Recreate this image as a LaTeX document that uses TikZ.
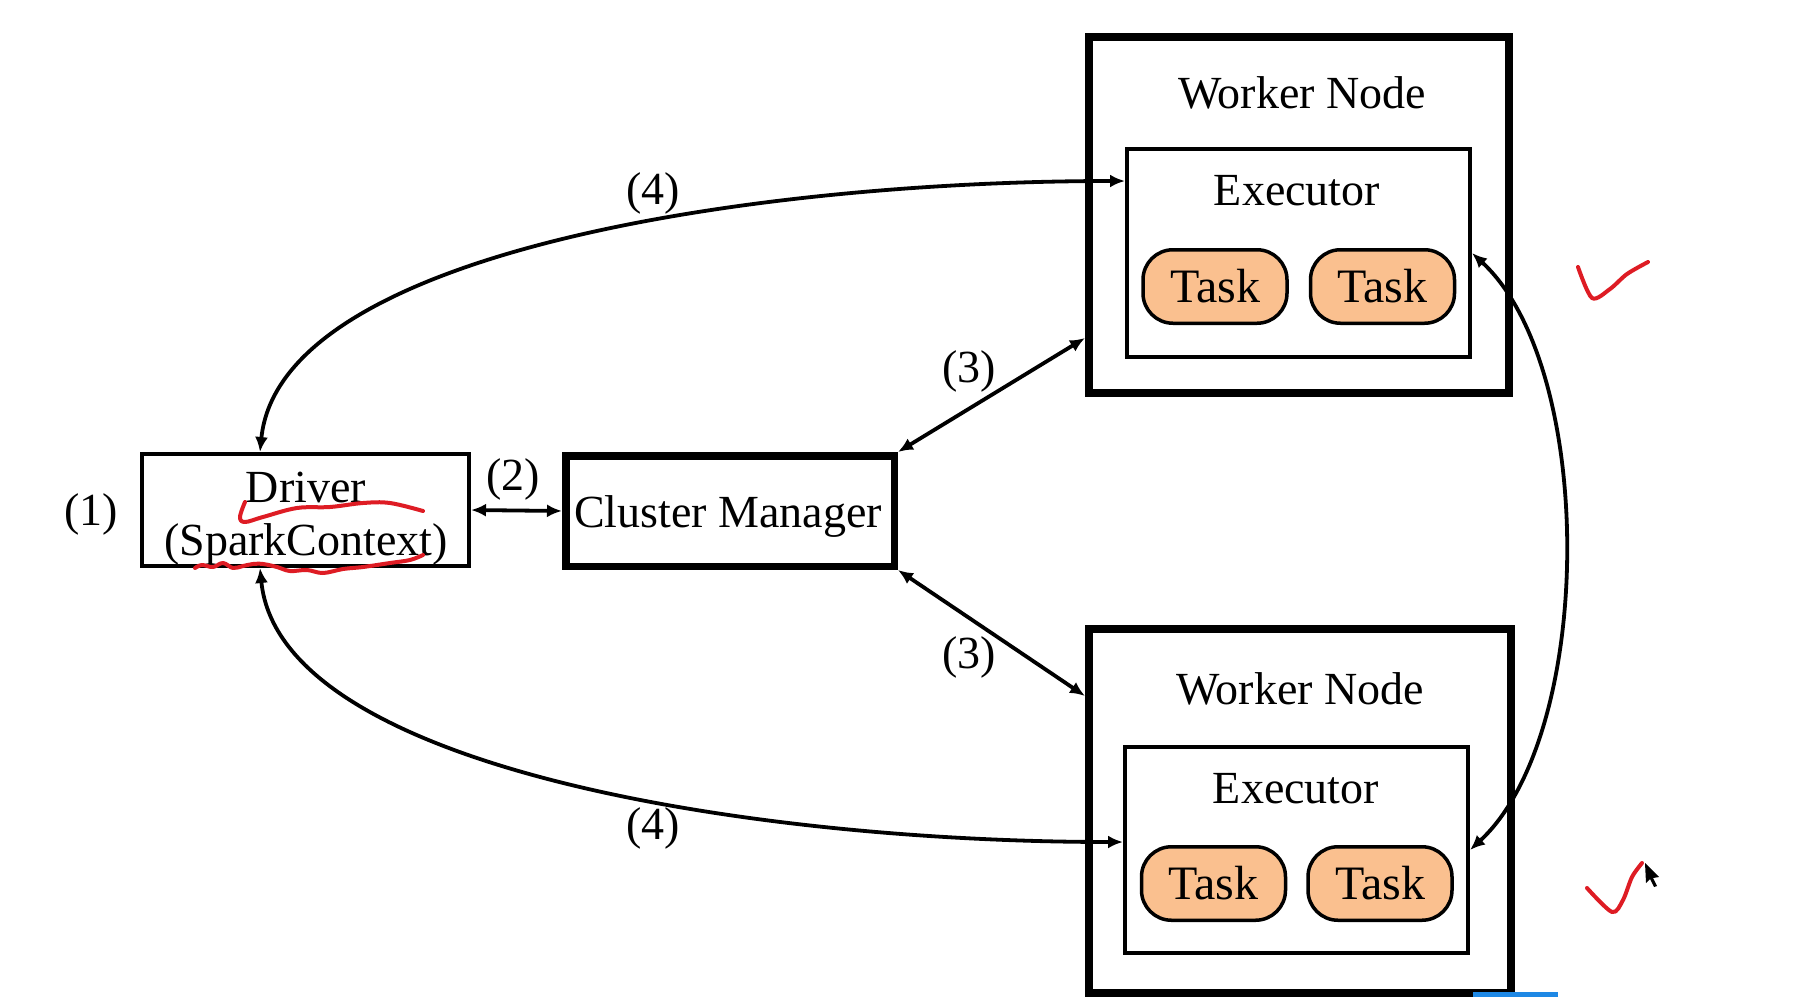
\documentclass[tikz,border=0pt]{standalone}
\usepackage{fontspec}
\setmainfont{Liberation Serif}
\usetikzlibrary{arrows.meta,calc}
\definecolor{taskfill}{RGB}{250,192,143}
\definecolor{pen}{RGB}{222,28,36}
\definecolor{barblue}{RGB}{30,136,229}
\begin{document}
\begin{tikzpicture}[x=0.5pt,y=-0.5pt,
  lbl/.style={inner sep=0pt, anchor=base, font=\fontsize{23}{28}\selectfont},
  box/.style={draw, inner sep=0pt, fill=white},
  workerbox/.style={box, line width=4.2pt},
  execbox/.style={box, line width=2pt, minimum width=171.5pt},
  taskbox/.style={draw, line width=1.75pt, fill=taskfill, rounded corners=15pt, minimum width=72pt, minimum height=36.75pt, inner sep=0pt, font=\fontsize{24}{28}\selectfont},
  conn/.style={line width=1.9pt, {Latex[length=7.5pt,width=6.5pt]}-{Latex[length=7.5pt,width=6.5pt]}},
  redpen/.style={draw=pen, line width=2pt, line cap=round, line join=round}]
\fill[white] (0,0) rectangle (1817,997);
\useasboundingbox (0,0) rectangle (1817,997);

% top worker
\node[workerbox, minimum width=209.8pt, minimum height=177.8pt] (w1) at (1299,215) {};
\node[execbox, minimum height=104pt] (e1) at (1298.5,253) {};
\node[taskbox] (t11) at (1215,286.5) {Task};
\node[taskbox] (t12) at (1382.5,286.5) {Task};
\node[lbl] (w1t) at (1302,108) {Worker Node};
\node[lbl] (e1t) at (1297,205) {Executor};

% bottom worker
\node[workerbox, minimum width=210.8pt, minimum height=181.8pt] (w2) at (1300,811) {};
\node[execbox, minimum height=103pt] (e2) at (1296.5,850) {};
\node[taskbox] (t21) at (1213.5,883.5) {Task};
\node[taskbox] (t22) at (1380,883.5) {Task};
\node[lbl] (w2t) at (1300,704) {Worker Node};
\node[lbl] (e2t) at (1296,803) {Executor};

% driver and cluster manager
\node[box, line width=2pt, minimum width=163.5pt, minimum height=56pt] (drv) at (305.5,510) {};
\node[lbl] (drvt1) at (306,502) {Driver};
\node[lbl] (drvt2) at (306,555) {(SparkContext)};
\node[box, line width=3.75pt, minimum width=164.25pt, minimum height=55.25pt] (cm) at (730,511) {};
\node[lbl] (cmt) at (728,527) {Cluster Manager};

% step labels
\node[lbl] (l1) at (91,525) {(1)};
\node[lbl] (l2) at (513,490) {(2)};
\node[lbl] (l3a) at (969,382) {(3)};
\node[lbl] (l3b) at (969,668) {(3)};
\node[lbl] (l4a) at (653,204) {(4)};
\node[lbl] (l4b) at (653,839) {(4)};

% connectors
\draw[conn] (drv.east) -- (cm.west);
\draw[conn] (cm.north east) -- ($(w1.south west)+(0,-59)$);
\draw[conn] (cm.south east) -- ($(w2.north west)+(0,71)$);
\draw[conn] ($(drv.north)+(-45.5,0)$) .. controls +(20,-202) and +(-364,0) .. ($(e1.north west)+(0,34)$);
\draw[conn] ($(drv.south)+(-45.5,0)$) .. controls +(20,202) and +(-364,0) .. ($(e2.north west)+(0,97)$);
\draw[conn] (e1.east) .. controls +(125,115) and +(125,-115) .. (e2.east);

% red pen annotations
\draw[redpen] plot[smooth, tension=0.6] coordinates {(245,502) (240,517) (245,522) (263,517) (297,508) (330,507) (363,503) (390,503) (423,511)};
\draw[redpen] plot[smooth, tension=0.6] coordinates {(195,568) (202,565) (213,567) (223,563) (233,568) (243,566) (253,564) (263,564) (277,567) (290,571) (307,570) (323,573) (343,569) (363,567) (390,563) (410,560) (423,555)};
\draw[redpen] plot[smooth, tension=0.5] coordinates {(1578,267) (1592,298) (1610,289) (1627,274) (1648,262)};
\draw[redpen] plot[smooth, tension=0.5] coordinates {(1587,888) (1612,912) (1623,900) (1632,877) (1642,863)};

% cursor
\fill[black] (1645,863) -- (1646,883) -- (1650,879) -- (1654,887) -- (1657,886) -- (1653,878) -- (1659,877) -- cycle;

% bottom bar
\fill[barblue] (1473,992) rectangle (1558,997);
\end{tikzpicture}
\end{document}
